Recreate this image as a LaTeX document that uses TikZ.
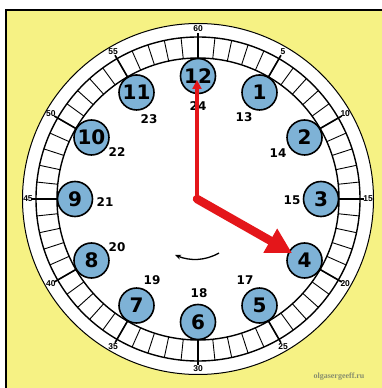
\documentclass[tikz,border=0pt]{standalone}
\usepackage{fontspec}
\setmainfont{DejaVu Sans}
\newfontfamily\minfont{Liberation Sans}
\newfontfamily\wmfont{Liberation Serif}
\usetikzlibrary{arrows.meta,calc}
\definecolor{bgyellow}{RGB}{246,242,132}
\definecolor{hourblue}{RGB}{126,178,214}
\definecolor{handred}{RGB}{228,22,26}
\definecolor{wmgray}{RGB}{135,142,110}
\begin{document}
\begin{tikzpicture}[x=1pt,y=1pt,
  hourdisc/.style={circle,draw=black,line width=1.6pt,fill=hourblue,minimum size=35pt,inner sep=0pt,font=\fontsize{20}{20}\selectfont\bfseries},
  daylabel/.style={font=\fontsize{12}{12}\selectfont\bfseries,inner sep=0pt},
  minlabel/.style={font=\minfont\fontsize{8.5}{8.5}\selectfont\bfseries,inner sep=0pt},
  minortick/.style={line width=0.9pt},
  majortick/.style={line width=1.6pt},
  ringline/.style={line width=1.4pt},
  handstyle/.style={draw=handred,color=handred}]
\useasboundingbox (0,0) rectangle (382,388);
\fill[white] (0,0) rectangle (382,388);
\fill[bgyellow] (6,0) rectangle (382,378);
\draw[line width=1.2pt] (6,0) -- (6,378) -- (382,378);
\coordinate (C) at (198,189);
% dial
\draw[fill=white,line width=1pt] (C) circle (175.5);
\draw[ringline] (C) circle (162);
\draw[ringline] (C) circle (141);
\foreach \i in {0,...,59}
  \draw[minortick] ($(C)+(90-6*\i:141)$) -- ($(C)+(90-6*\i:162)$);
\foreach \i in {0,...,11}
  \draw[majortick] ($(C)+(90-30*\i:136)$) -- ($(C)+(90-30*\i:166)$);
\foreach \i/\t in {0/60,1/5,2/10,3/15,4/20,5/25,6/30,7/35,8/40,9/45,10/50,11/55}
  \node[minlabel] (m\t) at ($(C)+(90-30*\i:170)$) {\t};
% hour discs
\foreach \k in {1,...,12}
  \node[hourdisc] (h\k) at ($(C)+(90-30*\k:123)$) {\k};
% 24-hour numbers
\node[daylabel] (d24) at (198,282) {24};
\node[daylabel] (d13) at (244,271) {13};
\node[daylabel] (d14) at (278,235) {14};
\node[daylabel] (d15) at (292,188) {15};
\node[daylabel] (d17) at (245,108) {17};
\node[daylabel] (d18) at (199,95) {18};
\node[daylabel] (d19) at (152,108) {19};
\node[daylabel] (d20) at (117,141) {20};
\node[daylabel] (d21) at (105,186) {21};
\node[daylabel] (d22) at (117,236) {22};
\node[daylabel] (d23) at (149,269) {23};
% direction arrow
\coordinate (ra) at (219,135);
\coordinate (rb) at (175,133);
\draw[line width=1.3pt,-{Stealth[length=6pt,width=5pt]}] (ra) .. controls (205,127) and (190,127) .. (rb);
% hands
\coordinate (P) at (197,189);
\coordinate (mt) at (197,308);
\coordinate (ht) at (292,135);
\draw[handstyle,line width=3.2pt,-{Triangle[length=9pt,width=9pt]}] (P) -- (mt);
\draw[handstyle,line width=8.5pt,line cap=round,-{Triangle[length=25pt,width=26pt]}] (P) -- (ht);
% watermark
\node[font=\wmfont\fontsize{8}{8}\selectfont\bfseries,text=wmgray,inner sep=0pt] (wm) at (339,11) {olgasergeeff.ru};
\end{tikzpicture}
\end{document}
